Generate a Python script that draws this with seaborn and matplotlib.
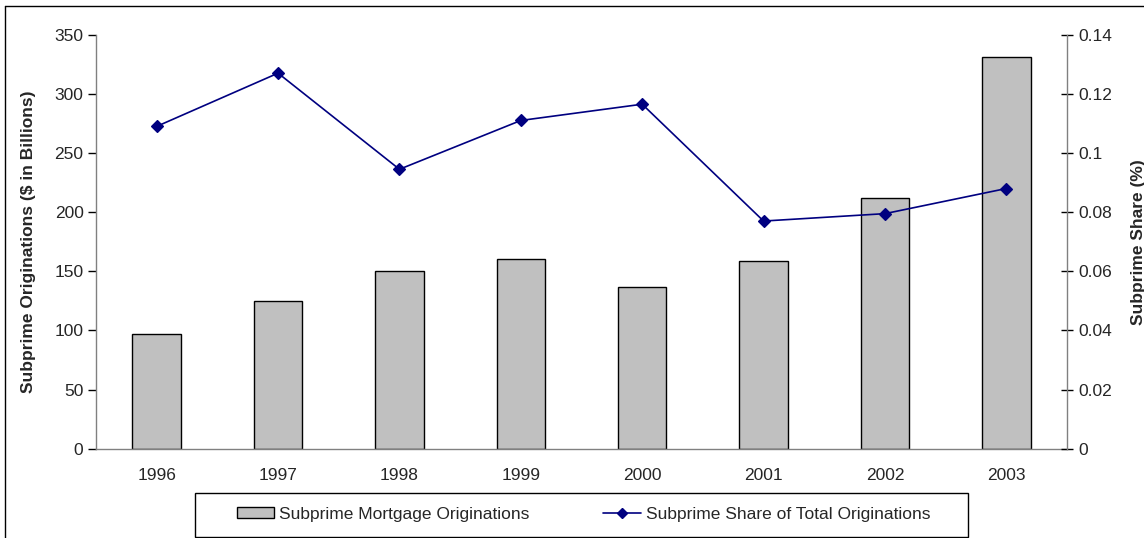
import numpy as np
import matplotlib.pyplot as plt
import matplotlib.patches as patches
from matplotlib.lines import Line2D
from matplotlib.ticker import FuncFormatter
import seaborn as sns

# --- Data ---
years = ["1996", "1997", "1998", "1999", "2000", "2001", "2002", "2003"]
originations = [97, 125, 150, 160, 137, 159, 212, 331]          # $ billions
share = [0.109, 0.127, 0.0945, 0.111, 0.1165, 0.077, 0.0795, 0.088]
left_ticks = [0, 50, 100, 150, 200, 250, 300, 350]
right_ticks = [0, 0.02, 0.04, 0.06, 0.08, 0.10, 0.12, 0.14]

BAR_COLOR = "#C0C0C0"
LINE_COLOR = "#000080"
AXIS_GRAY = "#808080"
FS = 12.5

sns.set_theme(style="white")
plt.rcParams['font.family'] = ['Liberation Sans', 'DejaVu Sans']

W, H = 1144, 538
fig = plt.figure(figsize=(W / 100, H / 100), dpi=100)

# plot area in pixels: x 96..1067, y 34.7..448.8
ax = fig.add_axes([96 / W, 1 - 448.8 / H, (1067 - 96) / W, (448.8 - 34.7) / H])

sns.barplot(x=years, y=originations, color=BAR_COLOR, saturation=1,
            edgecolor="black", linewidth=1, width=0.4, ax=ax)

ax2 = ax.twinx()
sns.pointplot(x=years, y=share, color=LINE_COLOR, markers="D",
              markersize=6.5, linewidth=1.2, ax=ax2)

# --- axes limits / ticks ---
ax.set_xlim(-0.5, len(years) - 0.5)
ax.set_ylim(0, 350)
ax2.set_ylim(0, 0.14)
ax.set_yticks(left_ticks)
ax2.set_yticks(right_ticks)
ax2.yaxis.set_major_formatter(FuncFormatter(lambda v, p: f"{v:g}"))

ax.set_xticks(range(len(years)))
ax.set_xticklabels(years)
ax.set_xticks(np.arange(-0.5, len(years), 1), minor=True)
ax.tick_params(axis="x", which="major", length=0, pad=14, labelsize=FS)
ax.tick_params(axis="x", which="minor", length=8, direction="inout",
               width=1, color="black")
ax.tick_params(axis="y", length=6, direction="out", width=1, color="black",
               left=True, labelsize=FS, pad=3)
ax2.tick_params(axis="y", length=8, direction="inout", width=1, color="black",
                right=True, labelsize=FS, pad=4)

for s in ["top", "right"]:
    ax.spines[s].set_visible(False)
for s in ["top", "left", "bottom"]:
    ax2.spines[s].set_visible(False)
for s in ["left", "bottom"]:
    ax.spines[s].set_color(AXIS_GRAY)
    ax.spines[s].set_linewidth(1)
ax2.spines["right"].set_color(AXIS_GRAY)
ax2.spines["right"].set_linewidth(1)
ax.grid(False)
ax2.grid(False)

ax.set_xlabel("")
ax.set_ylabel("Subprime Originations (\\$ in Billions)", fontsize=FS,
              fontweight="bold")
ax.yaxis.set_label_coords((36 - 96) / (1067 - 96), 0.5)
ax2.set_ylabel("Subprime Share (%)", fontsize=FS, fontweight="bold",
               rotation=90)
ax2.yaxis.set_label_coords((1131 - 96) / (1067 - 96), 0.5)

# --- legend in a box under the chart ---
handles = [
    patches.Patch(facecolor=BAR_COLOR, edgecolor="black", linewidth=1),
    Line2D([], [], color=LINE_COLOR, marker="D", markersize=5, linewidth=1.2),
]
labels = ["Subprime Mortgage Originations", "Subprime Share of Total Originations"]
fig.legend(handles, labels, loc="center", bbox_to_anchor=(583.5 / W, 1 - 514 / H),
           ncol=2, frameon=False, fontsize=FS, handlelength=2.15,
           handleheight=0.55, handletextpad=0.3, columnspacing=4.25)
fig.patches.append(patches.Rectangle((195 / W, 1 - 537 / H), (968 - 195) / W, (537 - 493) / H,
                                     transform=fig.transFigure, fill=False,
                                     edgecolor="black", linewidth=1))

# outer chart border (cut off at the right and bottom in the original)
fig.add_artist(Line2D([5 / W, 5 / W], [0, 1 - 6 / H], color="black", linewidth=1,
                      transform=fig.transFigure))
fig.add_artist(Line2D([5 / W, 1], [1 - 6 / H, 1 - 6 / H], color="black", linewidth=1,
                      transform=fig.transFigure))

fig.savefig("out.png", dpi=100, facecolor="white")
